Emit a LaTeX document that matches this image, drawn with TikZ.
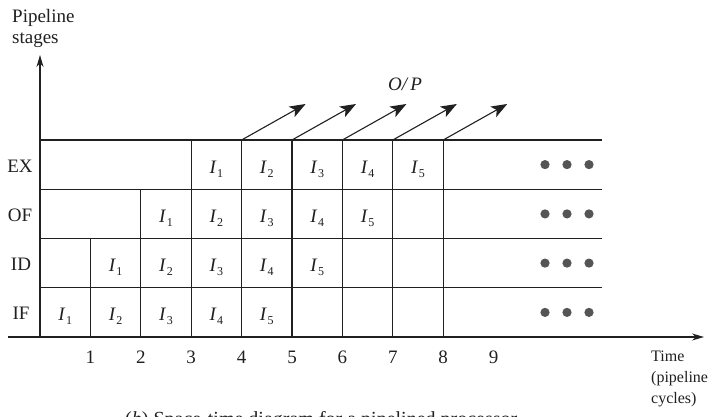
\documentclass[tikz,border=0pt]{standalone}
\usepackage{fontspec}
\setmainfont{Liberation Serif}
\usetikzlibrary{arrows.meta}
\definecolor{ink}{HTML}{202020}
\definecolor{dotc}{HTML}{555555}
\newcommand\Isub[1]{\textit{I}\kern0.6pt\raisebox{-4pt}{\fontsize{12}{12}\selectfont #1}}
\begin{document}
\begin{tikzpicture}[x=1pt,y=-1pt,
  grid/.style={draw=ink,line width=1.1pt},
  axisline/.style={draw=ink,line width=1.1pt,-{Stealth[length=12pt,width=7pt]}},
  outarrow/.style={draw=ink,line width=1.1pt,-{Stealth[length=16pt,width=12pt,inset=4pt]}},
  lbl/.style={font=\fontsize{19}{21}\selectfont,text=ink,inner sep=0pt},
  cell/.style={lbl,anchor=base},
  dotmark/.style={fill=dotc,draw=none}
]
\useasboundingbox (0,0) rectangle (709,417);
\fill[white] (0,0) rectangle (709,417);

% row lines y positions
\def\rA{337}\def\rB{287.75}\def\rC{238.5}\def\rD{189.25}\def\rE{140}

% axes
\coordinate (xs) at (8,\rA);
\coordinate (xe) at (704,\rA);
\coordinate (o) at (40,\rA);
\coordinate (ye) at (40,55);
\draw[axisline] (xs) -- (xe);
\draw[axisline] (o) -- (ye);

% horizontal grid lines
\foreach \r [count=\i] in {\rB,\rC,\rD,\rE}{
  \coordinate (hl\i) at (40,\r);
  \coordinate (hr\i) at (602,\r);
  \draw[grid] (hl\i) -- (hr\i);
}

% vertical grid lines
\foreach \k in {1,...,8}{
  \coordinate (vb\k) at ({40+50.4*\k},\rA);
}
\coordinate (vt1) at ({40+50.4*1},\rC);
\coordinate (vt2) at ({40+50.4*2},\rD);
\foreach \k in {3,...,8}{
  \coordinate (vt\k) at ({40+50.4*\k},\rE);
}
\foreach \k in {1,...,8}{
  \draw[grid] (vb\k) -- (vt\k);
}

% output arrows
\foreach \k in {4,...,8}{
  \coordinate (oe\k) at ({40+50.4*\k+64},104);
  \draw[outarrow] (vt\k) -- (oe\k);
}
\node[lbl,anchor=base] (op) at (405,91) {\textit{O/\,P}};

% tick labels
\foreach \k in {1,...,9}{
  \node[lbl,anchor=base] (t\k) at ({40+50.4*\k},363) {\k};
}

% stage labels
\node[lbl] (sEX) at (20,166) {EX};
\node[lbl] (sOF) at (20,215) {OF};
\node[lbl] (sID) at (21,264) {ID};
\node[lbl] (sIF) at (21,313) {IF};

% cell labels: row j (0=IF), instruction n in column j+n-1
\foreach \j/\cy in {0/312.4,1/263.1,2/213.9,3/164.6}{
  \foreach \n in {1,...,5}{
    \pgfmathsetmacro{\cxv}{40+50.4*(\j+\n-0.5)}
    \node[cell] (c\j-\n) at (\cxv,\cy+8.5) {\Isub{\n}};
  }
}

% dots
\foreach \cy [count=\j] in {164.6,213.9,263.1,312.4}{
  \foreach \dx [count=\d] in {545,567,589}{
    \fill[dotmark] (\dx,\cy) circle (4.6pt);
  }
}

% axis titles
\node[lbl,anchor=base west,align=left] (ylab) at (12,44) {Pipeline\\stages};
\node[lbl,anchor=base west,align=left,font=\fontsize{16}{21}\selectfont] (xlab) at (651,403) {Time\\(pipeline\\cycles)};

% caption (cut by the page edge, as in the reference)
\node[lbl,anchor=base west,font=\fontsize{20}{22}\selectfont] (cap) at (125,425) {(\textit{b}) Space-time diagram for a pipelined processor};
\end{tikzpicture}
\end{document}
